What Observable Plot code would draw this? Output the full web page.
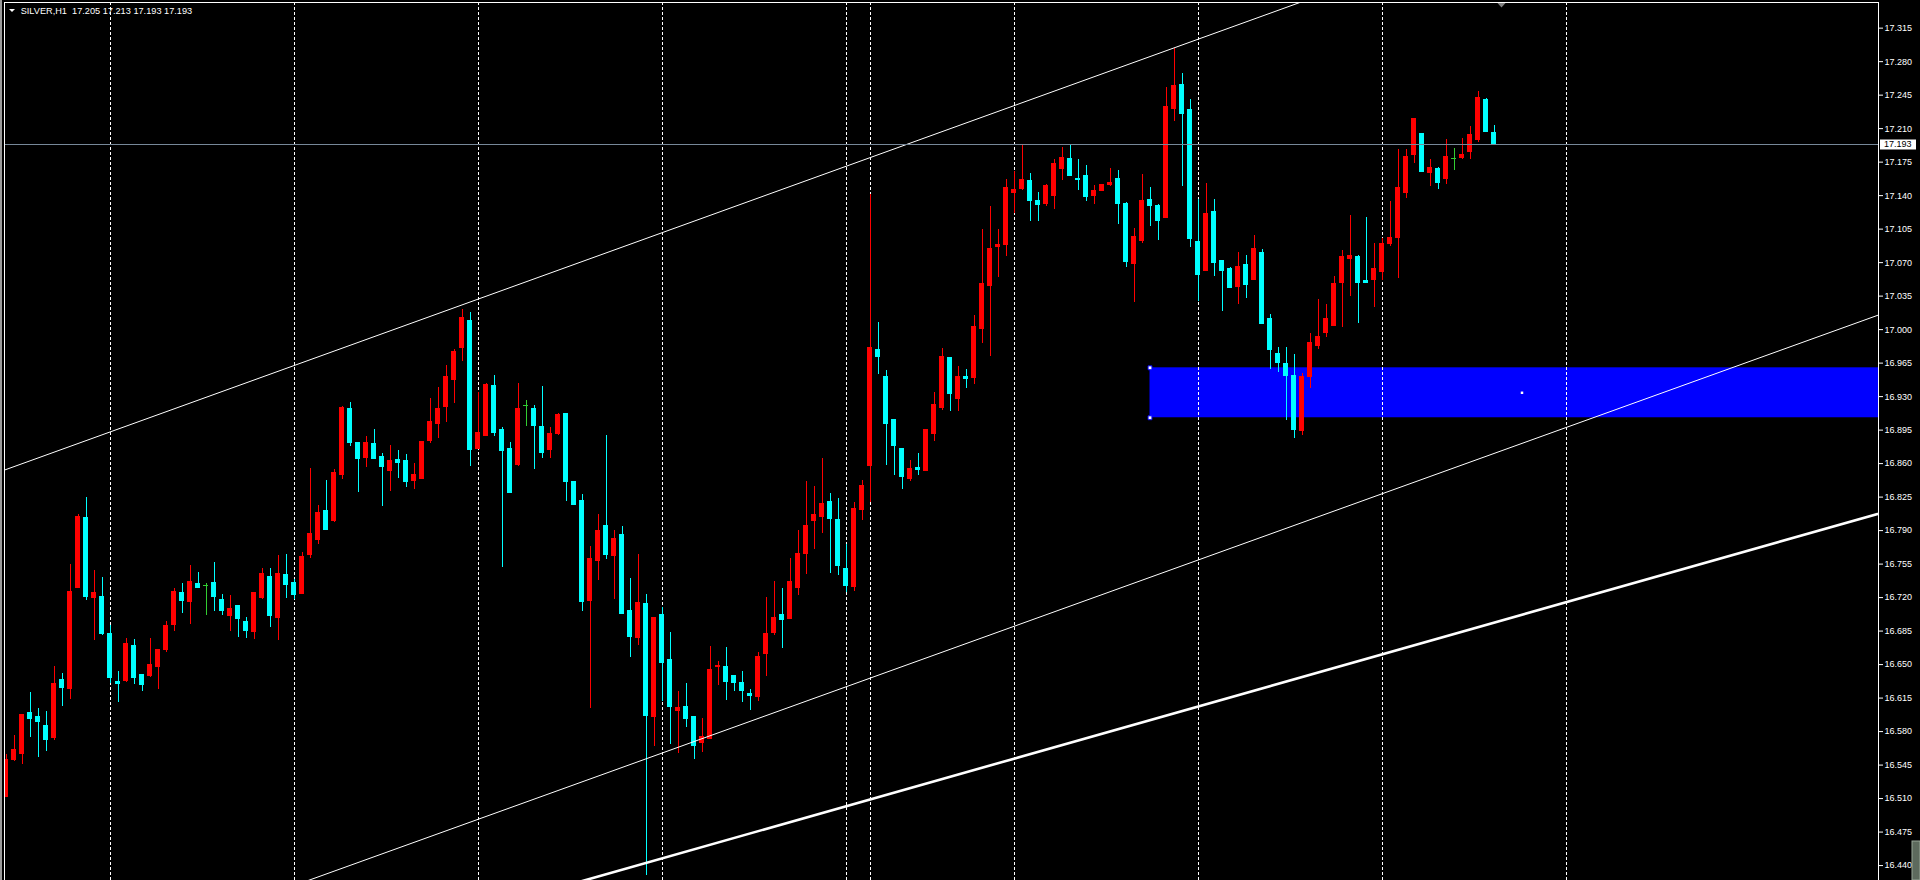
<!DOCTYPE html>
<html><head><meta charset="utf-8">
<script src="https://cdn.jsdelivr.net/npm/d3@7"></script>
<script src="https://cdn.jsdelivr.net/npm/@observablehq/plot@0.6"></script>
<style>html,body{margin:0;padding:0;background:#000;overflow:hidden}</style>
</head><body><div id="chart"></div>
<script>
const titleText = "SILVER,H1  17.205 17.213 17.193 17.193";
const opens = [16.512,16.550,16.557,16.599,16.595,16.586,16.573,16.634,16.625,16.730,16.803,16.720,16.721,16.682,16.632,16.633,16.669,16.639,16.638,16.648,
16.665,16.691,16.725,16.715,16.734,16.733,16.735,16.718,16.701,16.711,16.695,16.684,16.720,16.741,16.699,16.744,16.735,16.724,16.765,16.780,
16.810,16.800,16.848,16.917,16.882,16.866,16.881,16.867,16.852,16.864,16.863,16.842,16.844,16.884,16.901,16.919,16.947,16.981,17.009,16.875,
16.889,16.941,16.895,16.875,16.859,16.921,16.917,16.898,16.874,16.891,16.912,16.841,16.821,16.716,16.758,16.795,16.763,16.785,16.706,16.678,
16.713,16.595,16.702,16.655,16.602,16.606,16.595,16.568,16.572,16.647,16.647,16.638,16.631,16.619,16.616,16.661,16.683,16.702,16.698,16.730,
16.766,16.800,16.804,16.820,16.801,16.750,16.731,16.812,16.858,16.979,16.951,16.906,16.875,16.844,16.855,16.852,16.891,16.918,16.970,16.928,
16.951,16.949,17.001,17.046,17.086,17.088,17.143,17.147,17.155,17.134,17.131,17.140,17.168,17.178,17.157,17.161,17.140,17.145,17.151,17.157,
17.131,17.069,17.093,17.135,17.129,17.117,17.231,17.256,17.229,17.092,17.061,17.123,17.072,17.063,17.045,17.067,17.052,17.080,17.011,16.975,
16.964,16.952,16.894,16.950,16.983,16.996,17.004,17.049,17.074,17.076,17.051,17.052,17.060,17.089,17.096,17.143,17.182,17.204,17.164,17.168,
17.157,17.179,17.179,17.186,17.198,17.240,17.205];
const highs = [16.556,16.576,16.598,16.621,16.604,16.601,16.648,16.641,16.755,16.807,16.825,16.748,16.741,16.691,16.643,16.677,16.676,16.639,16.677,16.665,
16.695,16.730,16.735,16.754,16.746,16.735,16.757,16.723,16.722,16.711,16.699,16.725,16.750,16.750,16.764,16.765,16.739,16.767,16.855,16.816,
16.842,16.854,16.920,16.924,16.882,16.888,16.896,16.871,16.879,16.874,16.869,16.860,16.883,16.928,16.940,16.963,16.979,17.021,17.018,16.934,
16.944,16.952,16.898,16.882,16.944,16.926,16.921,16.941,16.898,16.912,16.912,16.841,16.828,16.773,16.807,16.889,16.790,16.794,16.740,16.765,
16.723,16.699,16.710,16.684,16.622,16.630,16.595,16.594,16.669,16.653,16.668,16.638,16.643,16.624,16.663,16.720,16.737,16.730,16.761,16.790,
16.841,16.836,16.865,16.829,16.824,16.775,16.819,16.842,17.141,17.007,16.957,16.906,16.875,16.863,16.871,16.895,16.934,16.980,16.971,16.961,
16.958,17.015,17.105,17.129,17.105,17.157,17.165,17.193,17.163,17.143,17.152,17.178,17.190,17.192,17.178,17.171,17.151,17.151,17.168,17.166,
17.133,17.106,17.162,17.149,17.131,17.253,17.294,17.268,17.240,17.136,17.153,17.136,17.072,17.065,17.081,17.077,17.098,17.084,17.016,16.981,
16.981,16.974,16.954,16.996,17.031,17.026,17.055,17.083,17.119,17.077,17.117,17.090,17.095,17.134,17.188,17.188,17.220,17.205,17.178,17.169,
17.199,17.189,17.200,17.212,17.249,17.241,17.213];
const lows = [16.511,16.549,16.546,16.574,16.553,16.559,16.571,16.606,16.614,16.730,16.717,16.675,16.680,16.630,16.610,16.631,16.629,16.622,16.636,16.624,
16.663,16.685,16.703,16.692,16.730,16.701,16.705,16.701,16.685,16.678,16.677,16.676,16.718,16.689,16.675,16.719,16.718,16.723,16.761,16.776,
16.791,16.798,16.843,16.878,16.830,16.856,16.865,16.815,16.831,16.844,16.835,16.833,16.844,16.881,16.886,16.903,16.923,16.967,16.857,16.875,
16.889,16.888,16.751,16.829,16.857,16.899,16.854,16.865,16.865,16.889,16.820,16.817,16.705,16.604,16.738,16.760,16.718,16.702,16.657,16.670,
16.430,16.564,16.611,16.566,16.557,16.584,16.551,16.558,16.572,16.628,16.612,16.622,16.610,16.602,16.611,16.638,16.680,16.667,16.697,16.722,
16.744,16.770,16.787,16.745,16.743,16.725,16.726,16.801,16.819,16.953,16.858,16.848,16.833,16.841,16.848,16.852,16.883,16.915,16.914,16.914,
16.938,16.943,16.986,16.972,17.054,17.076,17.121,17.145,17.113,17.113,17.129,17.126,17.156,17.160,17.145,17.134,17.131,17.144,17.150,17.110,
17.065,17.028,17.090,17.108,17.093,17.117,17.217,17.150,17.086,17.029,17.061,17.056,17.019,17.044,17.026,17.032,17.052,17.005,16.958,16.955,
16.905,16.886,16.889,16.938,16.979,16.992,17.004,17.002,17.035,17.006,17.049,17.023,17.051,17.087,17.053,17.137,17.174,17.164,17.150,17.146,
17.152,17.166,17.178,17.178,17.196,17.206,17.193];
const closes = [16.550,16.561,16.597,16.593,16.590,16.571,16.630,16.626,16.726,16.804,16.721,16.725,16.682,16.636,16.630,16.672,16.636,16.629,16.650,16.665,
16.690,16.726,16.716,16.736,16.730,16.733,16.721,16.706,16.708,16.698,16.685,16.725,16.745,16.701,16.745,16.733,16.723,16.762,16.786,16.808,
16.791,16.850,16.918,16.882,16.865,16.882,16.865,16.856,16.863,16.861,16.841,16.848,16.883,16.903,16.917,16.950,16.977,17.012,16.874,16.892,
16.942,16.892,16.873,16.829,16.917,16.921,16.899,16.871,16.891,16.911,16.841,16.817,16.715,16.760,16.790,16.764,16.781,16.703,16.679,16.714,
16.596,16.699,16.652,16.606,16.605,16.593,16.565,16.574,16.644,16.649,16.632,16.631,16.622,16.617,16.658,16.682,16.699,16.697,16.736,16.766,
16.795,16.806,16.818,16.802,16.753,16.732,16.813,16.837,16.981,16.971,16.901,16.878,16.846,16.854,16.853,16.895,16.921,16.971,16.933,16.950,
16.948,17.003,17.048,17.084,17.088,17.148,17.146,17.156,17.134,17.130,17.150,17.173,17.179,17.160,17.156,17.139,17.145,17.151,17.153,17.131,
17.071,17.097,17.134,17.129,17.114,17.233,17.255,17.225,17.095,17.057,17.121,17.070,17.061,17.044,17.065,17.047,17.084,17.006,16.979,16.965,
16.952,16.895,16.950,16.986,16.992,17.011,17.048,17.076,17.077,17.049,17.049,17.063,17.089,17.096,17.148,17.180,17.220,17.165,17.169,17.153,
17.180,17.179,17.182,17.203,17.242,17.207,17.193];
const priceTicks = [17.315,17.280,17.245,17.210,17.175,17.140,17.105,17.070,17.035,17.000,16.965,16.930,16.895,16.860,16.825,16.790,16.755,16.720,16.685,16.650,16.615,16.580,16.545,16.510,16.475,16.440];
const gridBars = [13,36,59,82,105,108,126,149,172,195];
const channelUpper = [{bar:-1, price:16.8508},{bar:236, price:17.5659}];
const channelLower = [{bar:-1, price:16.3077},{bar:236, price:17.0211}];
const trendThick = [{bar:-1, price:16.2509},{bar:236, price:16.8122}];
const zoneBars = [143, 236];
const zonePrices = [16.9079, 16.9601];
const bidPrice = 17.193;
const shiftBar = 187;

const bars = opens.map((o, i) => ({i, o, h: highs[i], l: lows[i], c: closes[i]}));
const colorOf = d => d.c > d.o ? "#ff0000" : d.c < d.o ? "#00ffff" : "#32cd32";
const bodies = bars.filter(d => d.c !== d.o);
const dojis = bars.filter(d => d.c === d.o);
const zone = [{x1: zoneBars[0], x2: zoneBars[1], y1: zonePrices[0], y2: zonePrices[1]}];
const anchors = [{bar: zoneBars[0], price: zonePrices[1]}, {bar: zoneBars[0], price: zonePrices[0]}];
const centerPt = [{bar: (zoneBars[0] + zoneBars[1]) / 2, price: (zonePrices[0] + zonePrices[1]) / 2}];
const FONT = "'Liberation Sans', Arial, sans-serif";

const chart = Plot.plot({
  width: 1920, height: 880,
  marginLeft: 4, marginRight: 42, marginTop: 2, marginBottom: 0,
  style: {background: "#000", color: "#fff", fontFamily: FONT, fontSize: "9px"},
  x: {type: "linear", domain: [-0.1875, 234.0625], axis: null},
  y: {domain: [16.4244, 17.3418], axis: "right", ticks: priceTicks, tickFormat: d3.format(".3f"), tickSize: 4, tickPadding: 2, label: null},
  marks: [
    Plot.rect(zone, {x1: "x1", x2: "x2", y1: "y1", y2: "y2", fill: "#0000ff", clip: true}),
    Plot.ruleX(gridBars, {x: d => d, stroke: "#ffffff", strokeDasharray: "3,2", shapeRendering: "crispEdges"}),
    Plot.ruleX(bars, {x: "i", y1: "l", y2: "h", stroke: colorOf, shapeRendering: "crispEdges", clip: true}),
    Plot.rect(bodies, {x1: d => d.i - 0.25, x2: d => d.i + 0.25, y1: "o", y2: "c", fill: colorOf, stroke: colorOf, strokeWidth: 1, shapeRendering: "crispEdges", clip: true}),
    Plot.ruleY(dojis, {y: "c", x1: d => d.i - 0.3125, x2: d => d.i + 0.3125, stroke: colorOf, shapeRendering: "crispEdges"}),
    Plot.line(channelUpper, {x: "bar", y: "price", stroke: "#ffffff", strokeWidth: 1, clip: true}),
    Plot.line(channelLower, {x: "bar", y: "price", stroke: "#ffffff", strokeWidth: 1, clip: true}),
    Plot.line(trendThick, {x: "bar", y: "price", stroke: "#ffffff", strokeWidth: 2.6, clip: true}),
    Plot.ruleY([bidPrice], {stroke: "#778899", shapeRendering: "crispEdges"}),
    Plot.dot(anchors, {x: "bar", y: "price", symbol: "square", r: 2.2, fill: "#ffffff", stroke: "#0000ff", strokeWidth: 1}),
    Plot.dot(centerPt, {x: "bar", y: "price", symbol: "square", r: 1.4, fill: "#ffffff", clip: true})
  ]
});
document.getElementById("chart").appendChild(chart);

const svg = d3.select(chart);
const ys = chart.scale("y");
const xs = chart.scale("x");
const by = Math.round(ys.apply(bidPrice)) + 0.5;
// frame
svg.append("rect").attr("x", 0).attr("y", 0).attr("width", 2).attr("height", 880).attr("fill", "#9a9a9a");
svg.append("path").attr("d", `M4.5,880V2.5H1878.5V880`).attr("fill", "none").attr("stroke", "#fff").attr("shape-rendering", "crispEdges");
// bid label
svg.append("rect").attr("x", 1880).attr("y", by - 5).attr("width", 36).attr("height", 10).attr("fill", "#fff");
svg.append("text").attr("x", 1884).attr("y", by).attr("dy", "0.32em").attr("fill", "#000").attr("text-anchor", "start")
  .attr("font-family", FONT).attr("font-size", 9).text(d3.format(".3f")(bidPrice));
// title
svg.append("path").attr("d", "M9,9H15L12,12Z").attr("fill", "#fff");
svg.append("text").attr("x", 20.7).attr("y", 14).attr("fill", "#fff").attr("text-anchor", "start")
  .attr("font-family", FONT).attr("font-size", 9.2).style("white-space", "pre").text(titleText);
// chart shift marker
const sx = xs.apply(shiftBar);
svg.append("path").attr("d", `M${sx - 4},3H${sx + 4}L${sx},7.5Z`).attr("fill", "#808080");
// scroll marker
svg.append("rect").attr("x", 1912).attr("y", 841).attr("width", 8).attr("height", 39).attr("fill", "#5d6a5d").attr("stroke", "#9aa89a");
</script>
</body></html>
